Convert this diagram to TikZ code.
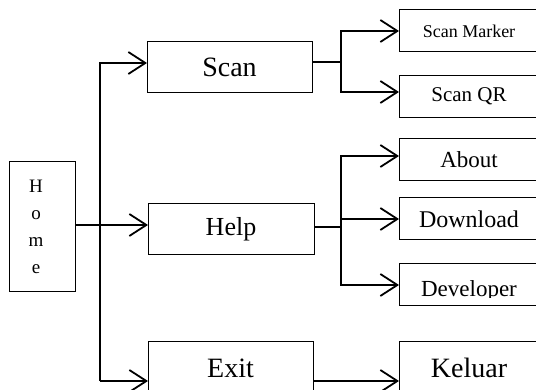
\documentclass[tikz,border=0pt]{standalone}
\usepackage{fontspec}
\setmainfont{Liberation Serif}
\usepackage{tikz}
\usetikzlibrary{calc, arrows.meta, positioning}
\tikzstyle{menubox} =[draw, line width=1pt, inner sep=0pt, outer sep=0pt, align=center]
\tikzstyle{mainbox} =[menubox, minimum width=165pt, minimum height=51pt]
\tikzstyle{subbox} =[menubox, minimum width=140pt, minimum height=42pt]
\tikzstyle{conn} =[line width=1.8pt, black]
\tikzstyle{stub} =[line width=1.2pt, black]
\tikzstyle{arr} =[conn, -{Straight Barb[length=17pt,width=22pt]}]

\begin{document}
\begin{tikzpicture}[x=1pt, y=-1pt, black]
        \useasboundingbox (0,0) rectangle (536,390);
        \clip (0,0) rectangle (536,390);

        % Home
        \node[menubox, minimum width=66pt, minimum height=130pt,
              label={[font=\fontsize{19}{27}\selectfont, align=center, xshift=-6pt]center:{H\\o\\m\\e}}]
              (home) at ($(42,227)$) {};

        %% Main menu
        \node[mainbox, font=\fontsize{28}{30}\selectfont] (scan) at ($(229.5,67.5)$) {Scan};
        \node[mainbox, minimum width=166pt, font=\fontsize{26}{28}\selectfont] (help) at ($(231,229.5)$) {Help};
        \node[mainbox, minimum height=52pt, font=\fontsize{28}{30}\selectfont] (exit) at ($(230.5,368)$) {Exit};

        %% Sub menu
        \node[subbox, font=\fontsize{18}{20}\selectfont] (marker) at ($(469,31)$) {Scan Marker};
        \node[subbox, font=\fontsize{21}{23}\selectfont] (scanqr) at ($(469,96.5)$) {Scan QR};
        \node[subbox, font=\fontsize{23}{25}\selectfont] (about) at ($(469,160)$) {About};
        \node[subbox, font=\fontsize{24}{26}\selectfont] (download) at ($(469,219)$) {Download};
        \node[subbox] (developer) at ($(469,285)$) {};
        \begin{scope}
            \clip ($(developer.north west)+(1,1)$) rectangle ($(developer.east)+(0,13)$);
            \node[anchor=base, inner sep=0pt, font=\fontsize{23}{25}\selectfont] (devtxt) at ($(469,297)$) {Developer};
        \end{scope}
        \node[subbox, minimum height=52pt, font=\fontsize{28}{30}\selectfont] (keluar) at ($(469,368)$) {Keluar};

        %% Trunk
        \coordinate (bot) at ($([yshift=-13pt]exit.west)-(48,0)$);
        \draw[arr] (bot) |- ([yshift=4.5pt]scan.west);
        \draw[arr] (bot) -- ([yshift=-13pt]exit.west);
        \draw[arr] ([yshift=2pt]home.east) -- ([yshift=2pt]home.east -| help.west);

        %% Scan branch
        \coordinate (sj) at ($([yshift=5.5pt]scan.east)+(29,0)$);
        \draw[stub] ([yshift=5.5pt]scan.east) -- (sj);
        \draw[arr] (sj) |- (marker.west);
        \draw[arr] (sj) |- ([yshift=4.5pt]scanqr.west);

        %% Help branch
        \coordinate (hj) at ($([yshift=2.5pt]help.east)+(27,0)$);
        \draw[stub] ([yshift=2.5pt]help.east) -- (hj);
        \foreach \n/\s in {about/4pt, download/0pt, developer/0pt} {
                \draw[arr] (hj) |- ([yshift=\s]\n.west);
            }

        %% Exit
        \draw[arr] ([yshift=-13pt]exit.east) -- ([yshift=-13pt]keluar.west);

    \end{tikzpicture}
\end{document}
